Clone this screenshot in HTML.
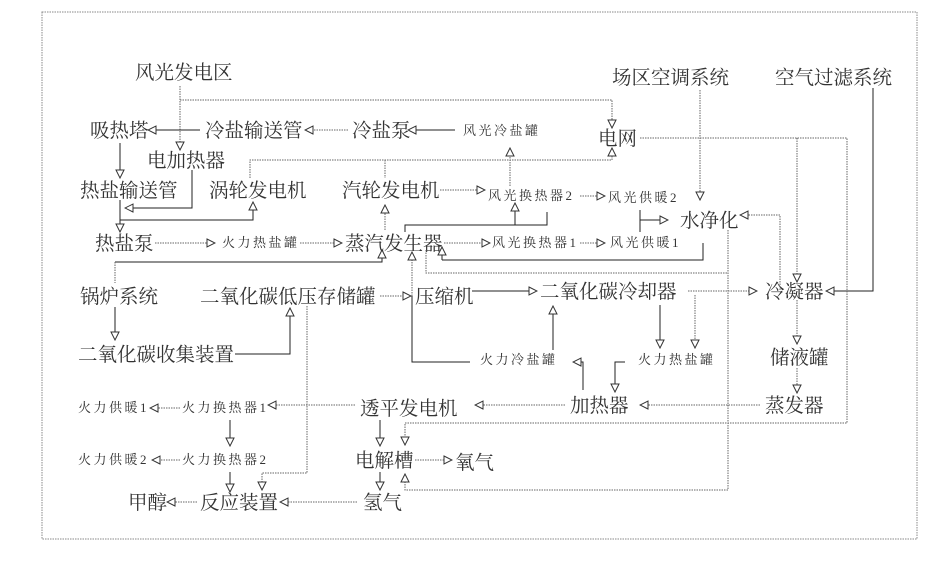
<!DOCTYPE html>
<html><head><meta charset="utf-8"><style>
body{margin:0;background:#fff}
svg{display:block}
text{font-family:"Liberation Serif","Noto Serif CJK SC",serif;fill:#333}
.b{font-size:19.5px}
.s{font-size:13px;fill:#555;letter-spacing:2.5px}
.d{stroke:#666;stroke-width:1;stroke-dasharray:1.5,1;fill:none}
.l{stroke:#222;stroke-width:1;fill:none}
</style></head><body>
<svg width="935" height="574" viewBox="0 0 935 574" xmlns="http://www.w3.org/2000/svg">
<defs>
<marker id="a" markerWidth="10" markerHeight="10" refX="9" refY="5" orient="auto" markerUnits="userSpaceOnUse">
<path d="M1,1 L9,5 L1,9 Z" fill="#fff" stroke="#333" stroke-width="1"/></marker>
</defs>
<rect x="42" y="12" width="875" height="527" fill="none" stroke="#888" stroke-dasharray="1.5,1"/>

<g class="b">
<text x="135" y="79">风光发电区</text>
<text x="612" y="84">场区空调系统</text>
<text x="775" y="84">空气过滤系统</text>
<text x="90" y="137">吸热塔</text>
<text x="205" y="137">冷盐输送管</text>
<text x="352" y="137">冷盐泵</text>
<text x="598" y="145">电网</text>
<text x="147" y="167">电加热器</text>
<text x="80" y="197">热盐输送管</text>
<text x="209" y="197">涡轮发电机</text>
<text x="342" y="197">汽轮发电机</text>
<text x="680" y="227">水净化</text>
<text x="95" y="250">热盐泵</text>
<text x="345" y="250">蒸汽发生器</text>
<text x="80" y="303">锅炉系统</text>
<text x="200" y="303">二氧化碳低压存储罐</text>
<text x="415" y="303">压缩机</text>
<text x="540" y="298">二氧化碳冷却器</text>
<text x="765" y="298">冷凝器</text>
<text x="78" y="361">二氧化碳收集装置</text>
<text x="770" y="364">储液罐</text>
<text x="360" y="415">透平发电机</text>
<text x="570" y="412">加热器</text>
<text x="765" y="412">蒸发器</text>
<text x="355" y="467">电解槽</text>
<text x="455" y="469">氧气</text>
<text x="128" y="509">甲醇</text>
<text x="200" y="509">反应装置</text>
<text x="363" y="509">氢气</text>
</g>
<g class="s">
<text x="463" y="135">风光冷盐罐</text>
<text x="488" y="200">风光换热器2</text>
<text x="608" y="202">风光供暖2</text>
<text x="222" y="247">火力热盐罐</text>
<text x="492" y="247">风光换热器1</text>
<text x="610" y="247">风光供暖1</text>
<text x="480" y="364">火力冷盐罐</text>
<text x="638" y="364">火力热盐罐</text>
<text x="78" y="412">火力供暖1</text>
<text x="182" y="412">火力换热器1</text>
<text x="78" y="464">火力供暖2</text>
<text x="182" y="464">火力换热器2</text>
</g>

<path class="d" d="M180,86 V150" marker-end="url(#a)"/>
<path class="d" d="M180,100 H612 V128" marker-end="url(#a)"/>
<path class="l" d="M200,130 H148" marker-end="url(#a)"/>
<path class="d" d="M348,130 H305" marker-end="url(#a)"/>
<path class="l" d="M455,130 H408" marker-end="url(#a)"/>
<path class="l" d="M120,143 V178" marker-end="url(#a)"/>
<path class="l" d="M192,170 V208 H125" marker-end="url(#a)"/>
<path class="l" d="M120,200 V232" marker-end="url(#a)"/>
<path class="l" d="M120,220 H253 V202" marker-end="url(#a)"/>
<path class="d" d="M250,178 V160 H612 V148" marker-end="url(#a)"/>
<path class="d" d="M385,160 V178"/>
<path class="d" d="M510,186 V148" marker-end="url(#a)"/>
<path class="d" d="M440,190 H485" marker-end="url(#a)"/>
<path class="d" d="M580,196 H605" marker-end="url(#a)"/>
<path class="d" d="M155,243 H215" marker-end="url(#a)"/>
<path class="d" d="M300,243 H342" marker-end="url(#a)"/>
<path class="d" d="M385,230 V205" marker-end="url(#a)"/>
<path class="d" d="M444,243 H490" marker-end="url(#a)"/>
<path class="d" d="M580,243 H605" marker-end="url(#a)"/>
<path class="l" d="M405,232 V225 H547 V212"/>
<path class="l" d="M515,225 V203" marker-end="url(#a)"/>
<path class="l" d="M442,260 V247" marker-end="url(#a)"/>
<path class="l" d="M442,260 H703 V243"/>
<path class="d" d="M426,250 V273 H728"/>
<path class="l" d="M115,262 H382 V250" marker-end="url(#a)"/>
<path class="d" d="M115,262 V283"/>
<path class="l" d="M115,307 V340" marker-end="url(#a)"/>
<path class="l" d="M235,354 H290 V308" marker-end="url(#a)"/>
<path class="d" d="M380,296 H411" marker-end="url(#a)"/>
<path class="d" d="M412,296 V252" marker-end="url(#a)"/>
<path class="l" d="M412,296 V362 H470"/>
<path class="l" d="M472,291 H537" marker-end="url(#a)"/>
<path class="d" d="M688,291 H757" marker-end="url(#a)"/>
<path class="l" d="M873,88 V291 H826" marker-end="url(#a)"/>
<path class="d" d="M640,138 H847 V423 H405 V445" marker-end="url(#a)"/>
<path class="d" d="M797,138 V282" marker-end="url(#a)"/>
<path class="d" d="M700,90 V200" marker-end="url(#a)"/>
<path class="l" d="M640,210 V232 M640,220 H668" marker-end="url(#a)"/>
<path class="d" d="M780,290 V215 H740" marker-end="url(#a)"/>
<path class="l" d="M660,305 V348" marker-end="url(#a)"/>
<path class="d" d="M695,295 V348" marker-end="url(#a)"/>
<path class="l" d="M553,350 V306" marker-end="url(#a)"/>
<path class="l" d="M583,390 V362 H573" marker-end="url(#a)"/>
<path class="l" d="M625,362 H615 V392" marker-end="url(#a)"/>
<path class="d" d="M760,405 H640" marker-end="url(#a)"/>
<path class="d" d="M565,405 H475" marker-end="url(#a)"/>
<path class="d" d="M355,405 H268" marker-end="url(#a)"/>
<path class="d" d="M180,408 H150" marker-end="url(#a)"/>
<path class="l" d="M230,420 V446" marker-end="url(#a)"/>
<path class="d" d="M180,460 H152" marker-end="url(#a)"/>
<path class="l" d="M230,472 V492" marker-end="url(#a)"/>
<path class="d" d="M307,306 V473 H262 V490" marker-end="url(#a)"/>
<path class="l" d="M380,420 V446" marker-end="url(#a)"/>
<path class="d" d="M415,460 H452" marker-end="url(#a)"/>
<path class="l" d="M380,472 V490" marker-end="url(#a)"/>
<path class="d" d="M357,502 H280" marker-end="url(#a)"/>
<path class="d" d="M197,502 H167" marker-end="url(#a)"/>
<path class="d" d="M728,230 V490 H405 V474" marker-end="url(#a)"/>
<path class="d" d="M797,300 V344" marker-end="url(#a)"/>
<path class="d" d="M797,368 V393" marker-end="url(#a)"/>
</svg>
</body></html>
